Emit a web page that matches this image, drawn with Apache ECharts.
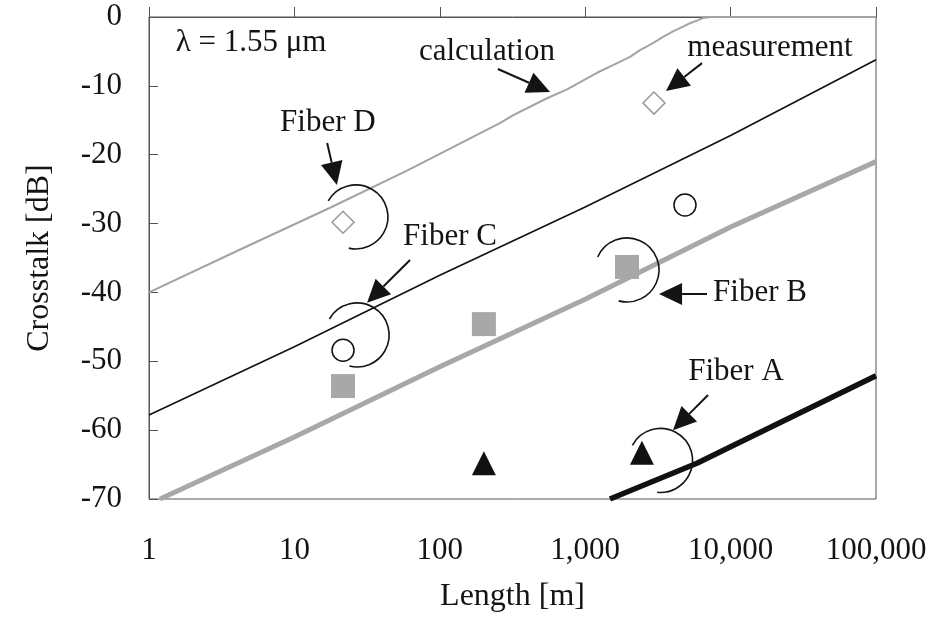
<!DOCTYPE html>
<html>
<head>
<meta charset="utf-8">
<script src="https://cdn.jsdelivr.net/npm/echarts@6/dist/echarts.min.js"></script>
<style>
  html, body { margin: 0; padding: 0; background: #fff; }
  #chart { width: 942px; height: 618px; }
</style>
</head>
<body>
<div id="chart"></div>
<script>
// ---- axis tick labels ----
const xTickLabels = ['1', '10', '100', '1,000', '10,000', '100,000'];
const yTickValues = [0, -10, -20, -30, -40, -50, -60, -70];

// ---- calculated crosstalk curves: [length m, crosstalk dB] ----
const calcFiberD = [[1, -40], [4.2, -33.8], [17.6, -27.7], [59.5, -22.3], [259, -15.4],
  [318, -14.3], [546, -11.8], [750, -10.5], [1206, -8.1], [1553, -7.0], [2033, -5.8],
  [2382, -4.8], [2925, -3.8], [3430, -2.9], [4018, -2.1], [4710, -1.4], [5260, -0.9],
  [5970, -0.45], [6460, -0.15], [7300, 0], [100000, 0]];
const calcFiberC = [[1, -57.8], [10, -47.9], [100, -37.5], [1000, -27.6], [10000, -17.2], [100000, -6.2]];
const calcFiberB = [[1.19, -70], [10, -61], [100, -50.8], [1000, -41], [10000, -30.5], [100000, -21]];
const calcFiberA = [[1480, -70], [5870, -64.8], [10000, -62.4], [100000, -52.1]];

// ---- measured crosstalk: [length m, crosstalk dB] ----
const measFiberD = [[21.6, -29.8], [2972, -12.5]];
const measFiberC = [[21.6, -48.4], [4856, -27.3]];
const measFiberB = [[21.6, -53.6], [201, -44.6], [1938, -36.3]];
const measFiberA = [[201, -64.8], [2457, -63.3]];

// ---- annotation anchors in data coordinates ----
const noteTexts = [
  { text: 'λ = 1.55 μm', at: [5.03, -3.8] },
  { text: 'calculation', at: [211, -5.1] },
  { text: 'measurement', at: [18660, -4.5] },
  { text: 'Fiber D', at: [17.0, -15.4] },
  { text: 'Fiber C', at: [117.5, -31.95] },
  { text: 'Fiber B', at: [15920, -40.1] },
  { text: 'Fiber A', at: [10890, -51.55] }
];
const noteArrows = [
  { from: [251, -7.55], to: [573, -10.9] },
  { from: [6360, -6.7], to: [3596, -10.75] },
  { from: [16.8, -18.3], to: [19.6, -24.4] },
  { from: [62.4, -35.3], to: [31.6, -41.5] },
  { from: [6880, -40.23], to: [3220, -40.23] },
  { from: [6995, -54.9], to: [4018, -60] }
];
const noteArcs = [
  { at: [26.5, -29.04], start: 210, end: 103 },
  { at: [27, -46.18], start: 210, end: 104 },
  { at: [1938, -36.74], start: 204, end: 105 },
  { at: [3300, -64.4], start: 208, end: 96 }
];

const serif = '"Liberation Serif", "Times New Roman", serif';
const ink = '#141414';
const frame = '#555';

const chart = echarts.init(document.getElementById('chart'), null, { renderer: 'canvas' });

function lineSeries(data, color, width) {
  return { type: 'line', data: data, showSymbol: false, symbol: 'none', smooth: false,
    lineStyle: { color: color, width: width, join: 'round' }, z: 2, silent: true, clip: true };
}
function markSeries(data, symbol, size, fill, stroke, bw) {
  return { type: 'scatter', data: data, symbol: symbol, symbolSize: size, z: 10, silent: true,
    itemStyle: { color: fill, borderColor: stroke, borderWidth: bw, opacity: 1 } };
}

chart.setOption({
  animation: false,
  backgroundColor: '#fff',
  grid: { left: 149, right: 66, top: 17, bottom: 119, show: true,
    borderColor: frame, borderWidth: 1, backgroundColor: 'transparent' },
  xAxis: {
    type: 'log', logBase: 10, min: 1, max: 100000,
    name: 'Length [m]', nameLocation: 'middle', nameGap: 82,
    nameTextStyle: { fontFamily: serif, fontSize: 32, color: ink },
    axisLine: { show: true, lineStyle: { color: frame, width: 1 } },
    axisTick: { show: true, inside: true, length: 10, lineStyle: { color: frame } },
    minorTick: { show: false },
    splitLine: { show: false },
    axisLabel: { margin: 36, fontFamily: serif, fontSize: 31, color: ink,
      formatter: v => xTickLabels[Math.round(Math.log10(v))] }
  },
  yAxis: {
    type: 'value', min: -70, max: 0, interval: 10,
    name: 'Crosstalk [dB]', nameLocation: 'middle', nameGap: 93, nameRotate: 90,
    nameTextStyle: { fontFamily: serif, fontSize: 32, color: ink },
    axisLine: { show: true, lineStyle: { color: frame, width: 1 } },
    axisTick: { show: true, inside: true, length: 9, lineStyle: { color: frame } },
    splitLine: { show: false },
    axisLabel: { margin: 27, fontFamily: serif, fontSize: 31, color: ink,
      formatter: v => (yTickValues.indexOf(v) >= 0 ? String(v) : '') }
  },
  series: [
    lineSeries(calcFiberD, '#a3a3a3', 2),
    lineSeries(calcFiberC, '#111', 1.6),
    lineSeries(calcFiberB, '#a8a8a8', 5),
    lineSeries(calcFiberA, '#111', 5.5),
    markSeries(measFiberD, 'diamond', 22, '#fff', '#999', 1.5),
    markSeries(measFiberC, 'circle', 22, '#fff', '#111', 1.5),
    markSeries(measFiberB, 'rect', 24, '#a8a8a8', '#a8a8a8', 0),
    markSeries(measFiberA, 'triangle', 24, '#111', '#111', 0)
  ]
});

// Annotation layer: labels, arrows and open arcs placed through the grid's coordinate system
function px(pt) { return chart.convertToPixel({ gridIndex: 0 }, pt); }
const graphics = [];
noteTexts.forEach(n => {
  const p = px(n.at);
  graphics.push({ type: 'text', z: 20, silent: true,
    style: { text: n.text, x: p[0], y: p[1], font: '31px ' + serif, fill: ink,
      align: 'center', verticalAlign: 'middle', textAlign: 'center', textVerticalAlign: 'middle' } });
});
noteArrows.forEach(a => {
  const p0 = px(a.from), p1 = px(a.to);
  const dx = p1[0] - p0[0], dy = p1[1] - p0[1];
  const len = Math.hypot(dx, dy);
  const ux = dx / len, uy = dy / len;
  const head = 23, half = 11;
  const bx = p1[0] - ux * head, by = p1[1] - uy * head;
  graphics.push({ type: 'line', z: 20, silent: true,
    shape: { x1: p0[0], y1: p0[1], x2: bx, y2: by },
    style: { stroke: ink, lineWidth: 2 } });
  graphics.push({ type: 'polygon', z: 20, silent: true,
    shape: { points: [[p1[0], p1[1]], [bx - uy * half, by + ux * half], [bx + uy * half, by - ux * half]] },
    style: { fill: ink } });
});
noteArcs.forEach(c => {
  const p = px(c.at);
  graphics.push({ type: 'arc', z: 20, silent: true,
    shape: { cx: p[0], cy: p[1], r: 32, startAngle: c.start * Math.PI / 180,
      endAngle: c.end * Math.PI / 180, clockwise: true },
    style: { stroke: ink, lineWidth: 1.6, fill: null } });
});
chart.setOption({ graphic: graphics });
</script>
</body>
</html>
